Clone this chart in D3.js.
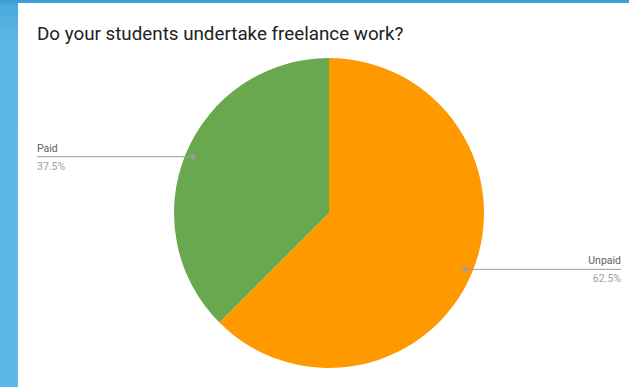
<!DOCTYPE html>
<html>
<head>
<meta charset="utf-8">
<script src="https://cdn.jsdelivr.net/npm/d3@7"></script>
<style>
  html, body { margin: 0; padding: 0; }
  body { width: 629px; height: 387px; overflow: hidden;
         background: linear-gradient(180deg, #3c9bd6 0px, #4aa9de 6px, #5bb8e6 40px, #5cb9e7 100%); }
  svg { display: block; }
</style>
</head>
<body>
<svg id="chart" width="629" height="387"></svg>
<script>
// Survey answers and their shares
const categories = ["Unpaid", "Paid"];
const values = [62.5, 37.5];
const percentLabels = ["62.5%", "37.5%"];
const colors = ["#ff9900", "#6aa84f"];
const title = "Do your students undertake freelance work?";

const svg = d3.select("#chart");

// White card that holds the chart
svg.append("rect")
  .attr("x", 18).attr("y", 3)
  .attr("width", 611).attr("height", 384)
  .attr("fill", "#ffffff");

svg.append("text")
  .attr("x", 37).attr("y", 40)
  .attr("font-family", "Roboto, sans-serif")
  .attr("font-size", 18.8)
  .attr("fill", "#212121")
  .text(title);

const cx = 329, cy = 213, radius = 155;

const pie = d3.pie().sort(null).value(d => d.value);
const arcs = pie(categories.map((c, i) => ({ name: c, value: values[i], pct: percentLabels[i], color: colors[i] })));

const arc = d3.arc().innerRadius(0).outerRadius(radius);
const anchorArc = d3.arc().innerRadius(radius * 0.95).outerRadius(radius * 0.95);

const g = svg.append("g").attr("transform", `translate(${cx},${cy})`);

g.selectAll("path.slice")
  .data(arcs)
  .join("path")
  .attr("class", "slice")
  .attr("d", arc)
  .attr("fill", d => d.data.color);

// Leader lines and labels, placed to the left or right of the pie
const labelX = { left: 37 - cx, right: 621 - cx };

arcs.forEach(d => {
  const [ax, ay] = anchorArc.centroid(d);
  const mid = (d.startAngle + d.endAngle) / 2;
  const right = Math.sin(mid) > 0;
  const ex = right ? labelX.right : labelX.left;

  g.append("line")
    .attr("x1", ax).attr("y1", ay)
    .attr("x2", ex).attr("y2", ay)
    .attr("stroke", "#9e9e9e")
    .attr("stroke-width", 1);

  g.append("circle")
    .attr("cx", ax).attr("cy", ay).attr("r", 2.5)
    .attr("fill", "#9e9e9e");

  g.append("text")
    .attr("x", ex).attr("y", ay - 5)
    .attr("text-anchor", right ? "end" : "start")
    .attr("font-family", "Roboto, sans-serif")
    .attr("font-size", 10.5)
    .attr("fill", "#616161")
    .text(d.data.name);

  g.append("text")
    .attr("x", ex).attr("y", ay + 13)
    .attr("text-anchor", right ? "end" : "start")
    .attr("font-family", "Roboto, sans-serif")
    .attr("font-size", 10.5)
    .attr("fill", "#9e9e9e")
    .text(d.data.pct);
});
</script>
</body>
</html>
